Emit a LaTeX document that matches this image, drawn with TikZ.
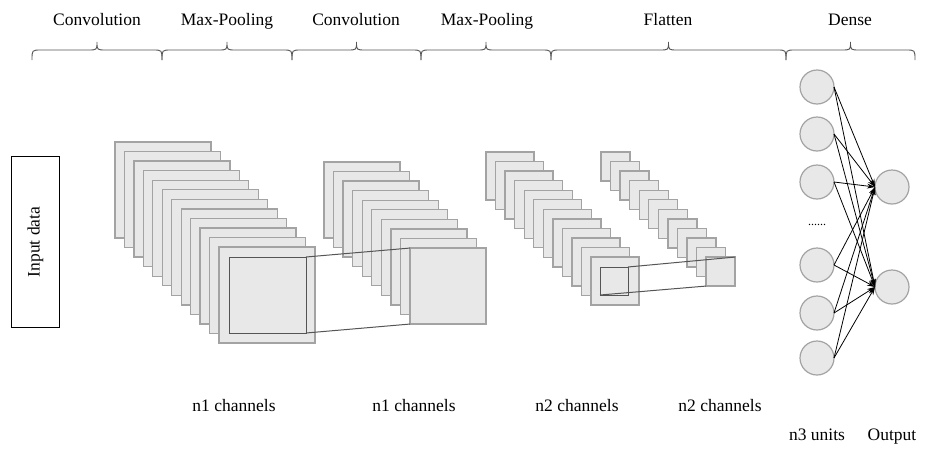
\documentclass[tikz,border=0pt]{standalone}
\usepackage{fontspec}
\setmainfont{Liberation Serif}
\usetikzlibrary{arrows.meta}
\definecolor{mapfill}{HTML}{E8E8E8}
\definecolor{mapedge}{HTML}{A3A3A3}
\definecolor{darkedge}{HTML}{555555}
\tikzset{
  lbl/.style={font=\fontsize{17.5}{20}\selectfont, inner sep=0pt, anchor=base},
  fmap/.style={draw=mapedge, fill=mapfill, line width=1.3pt, inner sep=0pt, outer sep=0pt, anchor=north west},
  window/.style={draw=darkedge, line width=1pt, inner sep=0pt, outer sep=0pt, anchor=north west},
  link/.style={draw=darkedge, line width=1pt},
  brc/.style={draw=darkedge, line width=0.9pt},
  neuron/.style={circle, draw=mapedge, fill=mapfill, line width=1.2pt, minimum size=34pt, inner sep=0pt, outer sep=0pt},
  syn/.style={draw=black, line width=0.8pt, -{Stealth[length=8pt,width=5pt]}}
}
% curly brace over [#1,#2], tip at the middle
\newcommand{\topbrace}[2]{%
  \pgfmathsetmacro{\bm}{(#1+#2)/2}%
  \draw[brc] (#1,60) .. controls (#1,50) .. (#1+9,50) -- (\bm-9,50)
    .. controls (\bm,50) .. (\bm,42) .. controls (\bm,50) .. (\bm+9,50)
    -- (#2-9,50) .. controls (#2,50) .. (#2,60);}
\begin{document}
\begin{tikzpicture}[x=1pt,y=-1pt]
\useasboundingbox (0,0) rectangle (925,453);

% layer names and braces
\node[lbl] (t1) at (97,25) {Convolution};
\node[lbl] (t2) at (227,25) {Max-Pooling};
\node[lbl] (t3) at (356,25) {Convolution};
\node[lbl] (t4) at (487,25) {Max-Pooling};
\node[lbl] (t5) at (668,25) {Flatten};
\node[lbl] (t6) at (850,25) {Dense};
\topbrace{32}{162}
\topbrace{162}{292}
\topbrace{292}{421}
\topbrace{421}{551}
\topbrace{551}{786}
\topbrace{786}{915}

% input
\node[draw=black, line width=0.9pt, minimum width=48pt, minimum height=171pt, inner sep=0pt, anchor=north west] (inp) at (11,156) {};
\node[lbl, anchor=center, rotate=90] (inptxt) at (inp.center) {Input data};

% first convolution: 12 maps
\foreach \i in {0,...,11}
  \node[fmap, minimum size=96pt] (a\i) at (115+9.45*\i,142+9.55*\i) {};
\node[window, minimum width=77pt, minimum height=76pt] (wa) at (229,257) {};

% first pooling: 10 maps
\foreach \i in {0,...,9}
  \node[fmap, minimum size=76pt] (b\i) at (324+9.56*\i,162+9.56*\i) {};

\draw[link] (wa.north east) -- (b9.north west);
\draw[link] (wa.south east) -- (b9.south west);

% second convolution: 12 maps
\foreach \i in {0,...,11}
  \node[fmap, minimum size=48pt] (c\i) at (486+9.55*\i,152+9.55*\i) {};
\node[window, minimum size=28pt] (wc) at (600,267) {};

% second pooling: 12 maps
\foreach \i in {0,...,11}
  \node[fmap, minimum size=29pt] (d\i) at (601+9.55*\i,152+9.55*\i) {};

\draw[link] (wc.north east) -- (d11.north east);
\draw[link] (wc.south west) -- (d11.south west);

% dense layer
\node[neuron] (h1) at (817,87) {};
\node[neuron] (h2) at (817,134) {};
\node[neuron] (h3) at (817,182) {};
\node[neuron] (h4) at (817,265) {};
\node[neuron] (h5) at (817,313) {};
\node[neuron] (h6) at (817,358) {};
\node[font=\fontsize{12}{14}\selectfont, inner sep=0pt] (dots) at (817,225) {......};
\node[neuron] (o1) at (892,187) {};
\node[neuron] (o2) at (892,287) {};
\foreach \h in {h1,h2,h3,h4,h5,h6}
  \foreach \o in {o1,o2}
    \draw[syn] (\h.east) -- (\o.west);

% sizes
\node[lbl] (n1a) at (234,411) {n1 channels};
\node[lbl] (n1b) at (414,411) {n1 channels};
\node[lbl] (n2a) at (577,411) {n2 channels};
\node[lbl] (n2b) at (720,411) {n2 channels};
\node[lbl] (n3) at (817,440) {n3 units};
\node[lbl] (out) at (892,440) {Output};
\end{tikzpicture}
\end{document}
